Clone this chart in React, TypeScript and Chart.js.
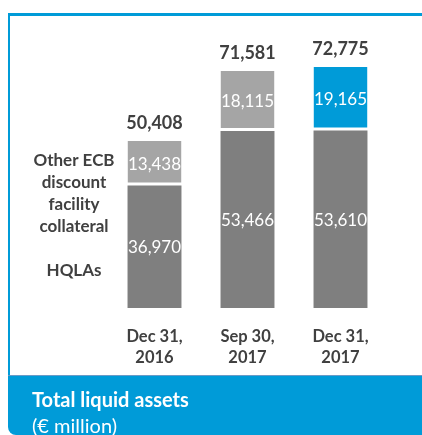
import React, { useEffect, useRef } from "react";
import { Chart, registerables } from "chart.js";

Chart.register(...registerables);

const categories: string[][] = [
  ["Dec 31,", "2016"],
  ["Sep 30,", "2017"],
  ["Dec 31,", "2017"],
];
const hqlaValues: number[] = [36970, 53466, 53610];
const otherValues: number[] = [13438, 18115, 19165];
const seriesLabels: string[][] = [
  ["HQLAs"],
  ["Other ECB", "discount", "facility", "collateral"],
];
const titleLine1 = "Total liquid assets";
const titleLine2 = "(€ million)";

const BLUE = "#009BD8";
const LIGHT = "#A5A5A5";
const DARK = "#7F7F7F";
const TEXT = "#404040";
const FONT = "Lato, 'Open Sans', sans-serif";
const otherColors = [LIGHT, LIGHT, BLUE];

const fmt = (v: number) => v.toLocaleString("en-US");

const labelPlugin = {
  id: "labelPlugin",
  afterDatasetsDraw(chart: any) {
    const ctx = chart.ctx;
    ctx.save();
    ctx.textAlign = "center";
    ctx.textBaseline = "middle";
    chart.data.datasets.forEach((ds: any, di: number) => {
      const meta = chart.getDatasetMeta(di);
      meta.data.forEach((bar: any, i: number) => {
        const top = Math.min(bar.y, bar.base);
        const bottom = Math.max(bar.y, bar.base);
        ctx.font = `400 17px ${FONT}`;
        ctx.fillStyle = "#FFFFFF";
        ctx.fillText(fmt(ds.data[i]), bar.x, (top + bottom) / 2 + 1);
      });
    });
    const topMeta = chart.getDatasetMeta(1);
    topMeta.data.forEach((bar: any, i: number) => {
      const total = hqlaValues[i] + otherValues[i];
      ctx.font = `700 18px ${FONT}`;
      ctx.fillStyle = TEXT;
      ctx.fillText(fmt(total), bar.x, bar.y - 18);
    });
    ctx.font = `700 17px ${FONT}`;
    ctx.fillStyle = TEXT;
    const lx = 74;
    seriesLabels[1].forEach((line, k) => {
      ctx.fillText(line, lx, 161 + k * 21.7);
    });
    ctx.fillText(seriesLabels[0][0], lx, 271);
    ctx.restore();
  },
};

export default function App() {
  const ref = useRef<HTMLCanvasElement | null>(null);

  useEffect(() => {
    if (!ref.current) return;
    const chart = new Chart(ref.current, {
      type: "bar",
      data: {
        labels: categories,
        datasets: [
          {
            label: seriesLabels[0].join(" "),
            data: hqlaValues,
            backgroundColor: DARK,
            borderWidth: 0,
            stack: "s",
            categoryPercentage: 1,
            barPercentage: 0.58,
          },
          {
            label: seriesLabels[1].join(" "),
            data: otherValues,
            backgroundColor: otherColors,
            borderColor: "#FFFFFF",
            borderWidth: { top: 0, left: 0, right: 0, bottom: 3 },
            borderSkipped: false,
            stack: "s",
            categoryPercentage: 1,
            barPercentage: 0.58,
          },
        ],
      },
      options: {
        animation: false,
        responsive: false,
        maintainAspectRatio: false,
        layout: { padding: { top: 43, left: 108, right: 35, bottom: 0 } },
        plugins: {
          legend: { display: false },
          tooltip: { enabled: false },
          title: { display: false },
        },
        scales: {
          x: {
            stacked: true,
            offset: true,
            grid: { display: false },
            border: { display: false },
            ticks: {
              color: TEXT,
              font: { family: FONT, size: 16.5, weight: "bold", lineHeight: 1.28 } as any,
              padding: 10,
              maxRotation: 0,
              autoSkip: false,
            },
            afterFit: (axis: any) => {
              axis.height = 67;
            },
          },
          y: {
            stacked: true,
            display: false,
            min: 0,
            max: 80000,
          },
        },
      } as any,
      plugins: [labelPlugin],
    });
    return () => chart.destroy();
  }, []);

  return (
    <div
      style={{
        position: "absolute",
        left: 0,
        top: 0,
        width: 422,
        height: 435,
        background: "#FFFFFF",
        overflow: "hidden",
        fontFamily: FONT,
      }}
    >
      <canvas
        ref={ref}
        width={422}
        height={375}
        style={{ position: "absolute", left: 0, top: 0, width: 422, height: 375 }}
      />
      <div style={{ position: "absolute", left: 8, top: 13, width: 414, height: 3, background: BLUE }} />
      <div style={{ position: "absolute", left: 8, top: 13, width: 2, height: 370, background: BLUE }} />
      <div
        style={{
          position: "absolute",
          left: 8,
          top: 375,
          width: 414,
          height: 60,
          background: BLUE,
          borderTop: "1px solid #6A9AC6",
          borderBottomLeftRadius: 8,
          boxSizing: "border-box",
          paddingTop: 10,
          paddingLeft: 24,
          color: "#FFFFFF",
          fontSize: 20,
          lineHeight: "26px",
        }}
      >
        <div style={{ fontWeight: 700 }}>{titleLine1}</div>
        <div style={{ fontWeight: 400 }}>{titleLine2}</div>
      </div>
    </div>
  );
}
